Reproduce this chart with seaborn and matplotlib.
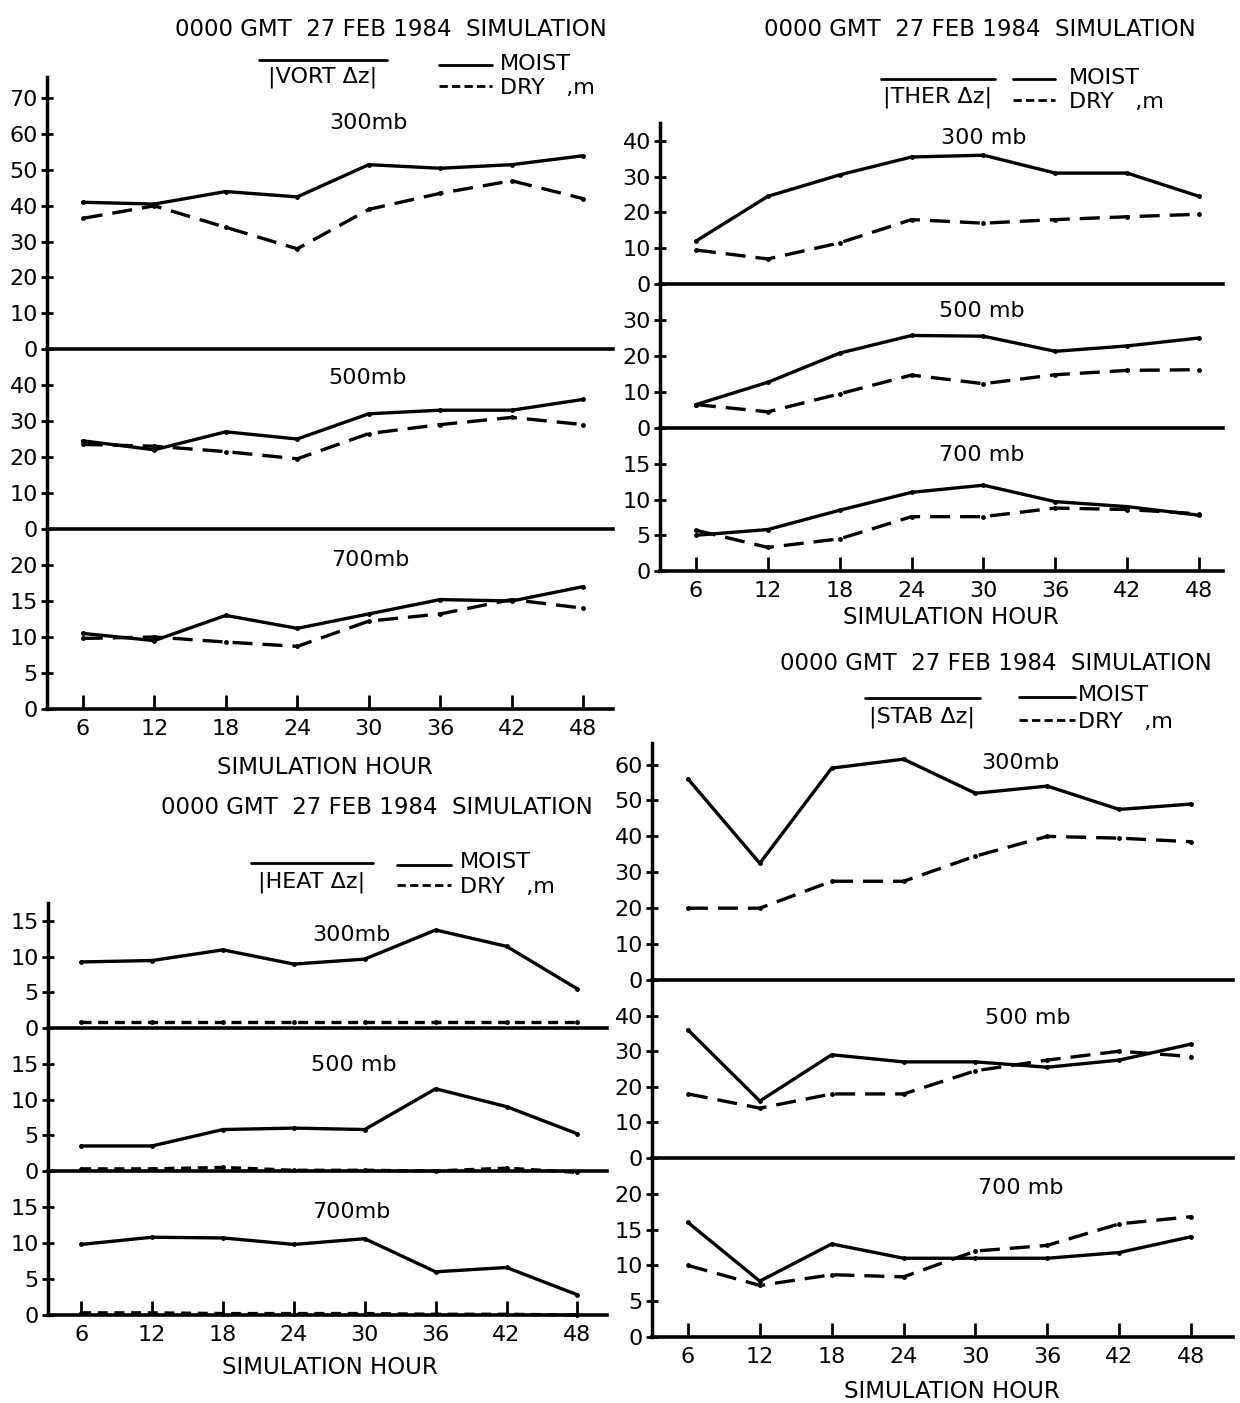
import matplotlib
matplotlib.use("Agg")
import matplotlib.pyplot as plt
from matplotlib.lines import Line2D
import pandas as pd
import seaborn as sns

# ---------------- data ----------------
hours = [6, 12, 18, 24, 30, 36, 42, 48]

vort_moist_300 = [41, 40.5, 44, 42.5, 51.5, 50.5, 51.5, 54]
vort_dry_300 = [36.5, 40, 34, 28, 39, 43.5, 47, 42]
vort_moist_500 = [24.5, 22, 27, 25, 32, 33, 33, 36]
vort_dry_500 = [23.5, 23, 21.5, 19.5, 26.5, 29, 31, 29]
vort_moist_700 = [10.5, 9.5, 13, 11.2, 13.2, 15.2, 15, 17]
vort_dry_700 = [9.8, 10, 9.3, 8.7, 12.2, 13.2, 15.2, 14]

ther_moist_300 = [12, 24.5, 30.5, 35.5, 36, 31, 31, 24.5]
ther_dry_300 = [9.5, 7, 11.5, 18, 17, 18, 18.8, 19.5]
ther_moist_500 = [6.5, 12.7, 20.8, 25.7, 25.5, 21.3, 22.8, 25]
ther_dry_500 = [6.5, 4.5, 9.5, 14.7, 12.3, 14.8, 16, 16.2]
ther_moist_700 = [5, 5.8, 8.5, 11, 12, 9.7, 9, 7.8]
ther_dry_700 = [5.7, 3.3, 4.5, 7.6, 7.6, 8.8, 8.6, 8]

heat_moist_300 = [9.3, 9.5, 11, 9, 9.7, 13.8, 11.5, 5.5]
heat_dry_300 = [0.8, 0.8, 0.8, 0.8, 0.8, 0.8, 0.8, 0.8]
heat_moist_500 = [3.5, 3.5, 5.8, 6, 5.8, 11.5, 9, 5.2]
heat_dry_500 = [0.3, 0.3, 0.5, 0.1, 0.1, 0.0, 0.4, -0.2]
heat_moist_700 = [9.8, 10.8, 10.7, 9.8, 10.6, 6, 6.6, 2.8]
heat_dry_700 = [0.3, 0.3, 0.2, 0.2, 0.2, 0.1, 0.1, 0.0]

stab_moist_300 = [56, 32.5, 59, 61.5, 52, 54, 47.5, 49]
stab_dry_300 = [20, 20, 27.5, 27.5, 34.5, 40, 39.5, 38.5]
stab_moist_500 = [36, 16, 29, 27, 27, 25.5, 27.5, 32]
stab_dry_500 = [18, 14, 18, 18, 24.5, 27.5, 30, 28.5]
stab_moist_700 = [16, 7.8, 13, 11, 11, 11, 11.8, 14]
stab_dry_700 = [10, 7.2, 8.7, 8.4, 12, 12.8, 15.8, 16.8]

hour_ticks = [6, 12, 18, 24, 30, 36, 42, 48]
tick_labels_x = ["6", "12", "18", "24", "30", "36", "42", "48"]
title_text = "0000 GMT  27 FEB 1984  SIMULATION"
xlabel_text = "SIMULATION HOUR"

# ---------------- style ----------------
sns.set_style("ticks")
plt.rcParams['font.family'] = ['DejaVu Sans']
plt.rcParams['text.color'] = 'black'
plt.rcParams['axes.labelcolor'] = 'black'
plt.rcParams['axes.edgecolor'] = 'black'
plt.rcParams['xtick.color'] = 'black'
plt.rcParams['ytick.color'] = 'black'

W, H = 1240, 1403
fig = plt.figure(figsize=(W / 100, H / 100), dpi=100)


def fx(x):
    return x / W


def fy(y):
    return 1 - y / H


def long_df(moist, dry):
    return pd.DataFrame({
        "hour": hours * 2,
        "value": list(moist) + list(dry),
        "run": ["MOIST"] * len(hours) + ["DRY"] * len(hours),
    })


def draw_group(g):
    left, right = g["left"], g["right"]
    bounds = [g["top"]] + g["zeros"]
    for i in range(3):
        ytop, ybot = bounds[i], bounds[i + 1]
        ax = fig.add_axes([fx(left), fy(ybot), fx(right) - fx(left), (ybot - ytop) / H])
        moist, dry = g["data"][i]
        df = long_df(moist, dry)
        sns.lineplot(data=df, x="hour", y="value", style="run", ax=ax,
                     color="black", linewidth=2.4,
                     dashes={"MOIST": "", "DRY": g["dash"]},
                     markers={"MOIST": "o", "DRY": "o"}, markersize=3.5,
                     markeredgewidth=0, legend=False, clip_on=False)
        ax.set_xlim(*g["xlim"])
        ax.set_ylim(*g["ylims"][i])
        ax.set_yticks(g["yticks"][i])
        ax.set_yticklabels([str(t) for t in g["yticks"][i]])
        ax.set_xlabel("")
        ax.set_ylabel("")
        for s in ["top", "right"]:
            ax.spines[s].set_visible(False)
        ax.spines["left"].set_linewidth(2.5)
        ax.spines["bottom"].set_linewidth(2.6)
        ax.patch.set_alpha(0)
        ax.tick_params(axis="y", direction="inout", length=9, width=2,
                       labelsize=16, pad=2, colors="black")
        if i < 2:
            ax.tick_params(axis="x", bottom=False, labelbottom=False)
        else:
            ax.set_xticks(hour_ticks)
            ax.set_xticklabels(tick_labels_x)
            ax.tick_params(axis="x", direction="in", length=10, width=2,
                           labelsize=16, pad=7, colors="black")
        lx, ly, ltxt = g["levels"][i]
        fig.text(fx(lx), fy(ly), ltxt, ha="center", va="center", fontsize=16)

    # title and x label
    tx, ty = g["title_xy"]
    fig.text(fx(tx), fy(ty), title_text, ha="center", va="center", fontsize=16.5)
    xx, xy = g["xlabel_xy"]
    fig.text(fx(xx), fy(xy), xlabel_text, ha="center", va="center", fontsize=16.5)

    # legend block
    L = g["legend"]
    ox0, ox1, oy = L["overline"]
    fig.add_artist(Line2D([fx(ox0), fx(ox1)], [fy(oy), fy(oy)], color="black",
                          lw=2, transform=fig.transFigure))
    nx, ny = L["name_xy"]
    fig.text(fx(nx), fy(ny), g["name"], ha="center", va="center", fontsize=16)
    mx0, mx1, my = L["moist_line"]
    fig.add_artist(Line2D([fx(mx0), fx(mx1)], [fy(my), fy(my)], color="black",
                          lw=2, transform=fig.transFigure))
    dy = L["dry_y"]
    fig.add_artist(Line2D([fx(mx0), fx(mx1)], [fy(dy), fy(dy)], color="black",
                          lw=2, ls=(0, (3, 1.5)), transform=fig.transFigure))
    tx0 = L["text_x"]
    fig.text(fx(tx0), fy(L["moist_text_y"]), "MOIST", ha="left", va="center", fontsize=16)
    fig.text(fx(tx0), fy(L["dry_text_y"]), "DRY   ,m", ha="left", va="center", fontsize=16)


groups = [
    dict(name="|VORT Δz|", left=47, right=613, top=77, zeros=[349, 529, 709],
         xlim=(3, 50.5), ylims=[(0, 76), (0, 50), (0, 25)],
         yticks=[list(range(0, 71, 10)), list(range(0, 41, 10)), list(range(0, 21, 5))],
         data=[(vort_moist_300, vort_dry_300), (vort_moist_500, vort_dry_500),
               (vort_moist_700, vort_dry_700)],
         dash=(6, 3),
         levels=[(368, 123, "300mb"), (368, 378, "500mb"), (370, 560, "700mb")],
         title_xy=(391, 30), xlabel_xy=(325, 767),
         legend=dict(overline=(259, 387, 60), name_xy=(323, 77),
                     moist_line=(439, 492, 65), dry_y=86, text_x=500,
                     moist_text_y=64, dry_text_y=88)),
    dict(name="|THER Δz|", left=660, right=1223, top=123, zeros=[284, 428, 571],
         xlim=(3, 50), ylims=[(0, 45), (0, 40), (0, 20)],
         yticks=[list(range(0, 41, 10)), list(range(0, 31, 10)), list(range(0, 16, 5))],
         data=[(ther_moist_300, ther_dry_300), (ther_moist_500, ther_dry_500),
               (ther_moist_700, ther_dry_700)],
         dash=(6, 3),
         levels=[(984, 138, "300 mb"), (982, 311, "500 mb"), (982, 455, "700 mb")],
         title_xy=(980, 30), xlabel_xy=(951, 617),
         legend=dict(overline=(881, 995, 79), name_xy=(938, 97),
                     moist_line=(1013, 1055, 79), dry_y=100, text_x=1069,
                     moist_text_y=78, dry_text_y=102)),
    dict(name="|HEAT Δz|", left=48, right=607, top=903, zeros=[1028, 1171, 1315],
         xlim=(3.2, 50.5), ylims=[(0, 17.6), (0, 20), (0, 20)],
         yticks=[list(range(0, 16, 5)), list(range(0, 16, 5)), list(range(0, 16, 5))],
         data=[(heat_moist_300, heat_dry_300), (heat_moist_500, heat_dry_500),
               (heat_moist_700, heat_dry_700)],
         dash=(3, 2),
         levels=[(351, 935, "300mb"), (354, 1065, "500 mb"), (351, 1212, "700mb")],
         title_xy=(377, 807), xlabel_xy=(330, 1368),
         legend=dict(overline=(251, 373, 863), name_xy=(312, 882),
                     moist_line=(397, 451, 865), dry_y=885, text_x=460,
                     moist_text_y=862, dry_text_y=887)),
    dict(name="|STAB Δz|", left=652, right=1233, top=743, zeros=[980, 1158, 1337],
         xlim=(3, 51.5), ylims=[(0, 66), (0, 50), (0, 25)],
         yticks=[list(range(0, 61, 10)), list(range(0, 41, 10)), list(range(0, 21, 5))],
         data=[(stab_moist_300, stab_dry_300), (stab_moist_500, stab_dry_500),
               (stab_moist_700, stab_dry_700)],
         dash=(6, 3),
         levels=[(1020, 763, "300mb"), (1028, 1018, "500 mb"), (1021, 1188, "700 mb")],
         title_xy=(996, 663), xlabel_xy=(952, 1392),
         legend=dict(overline=(865, 980, 698), name_xy=(922, 717),
                     moist_line=(1019, 1075, 697), dry_y=720, text_x=1078,
                     moist_text_y=695, dry_text_y=722)),
]

for g in groups:
    draw_group(g)

fig.savefig("out.png", dpi=100, facecolor="white")
